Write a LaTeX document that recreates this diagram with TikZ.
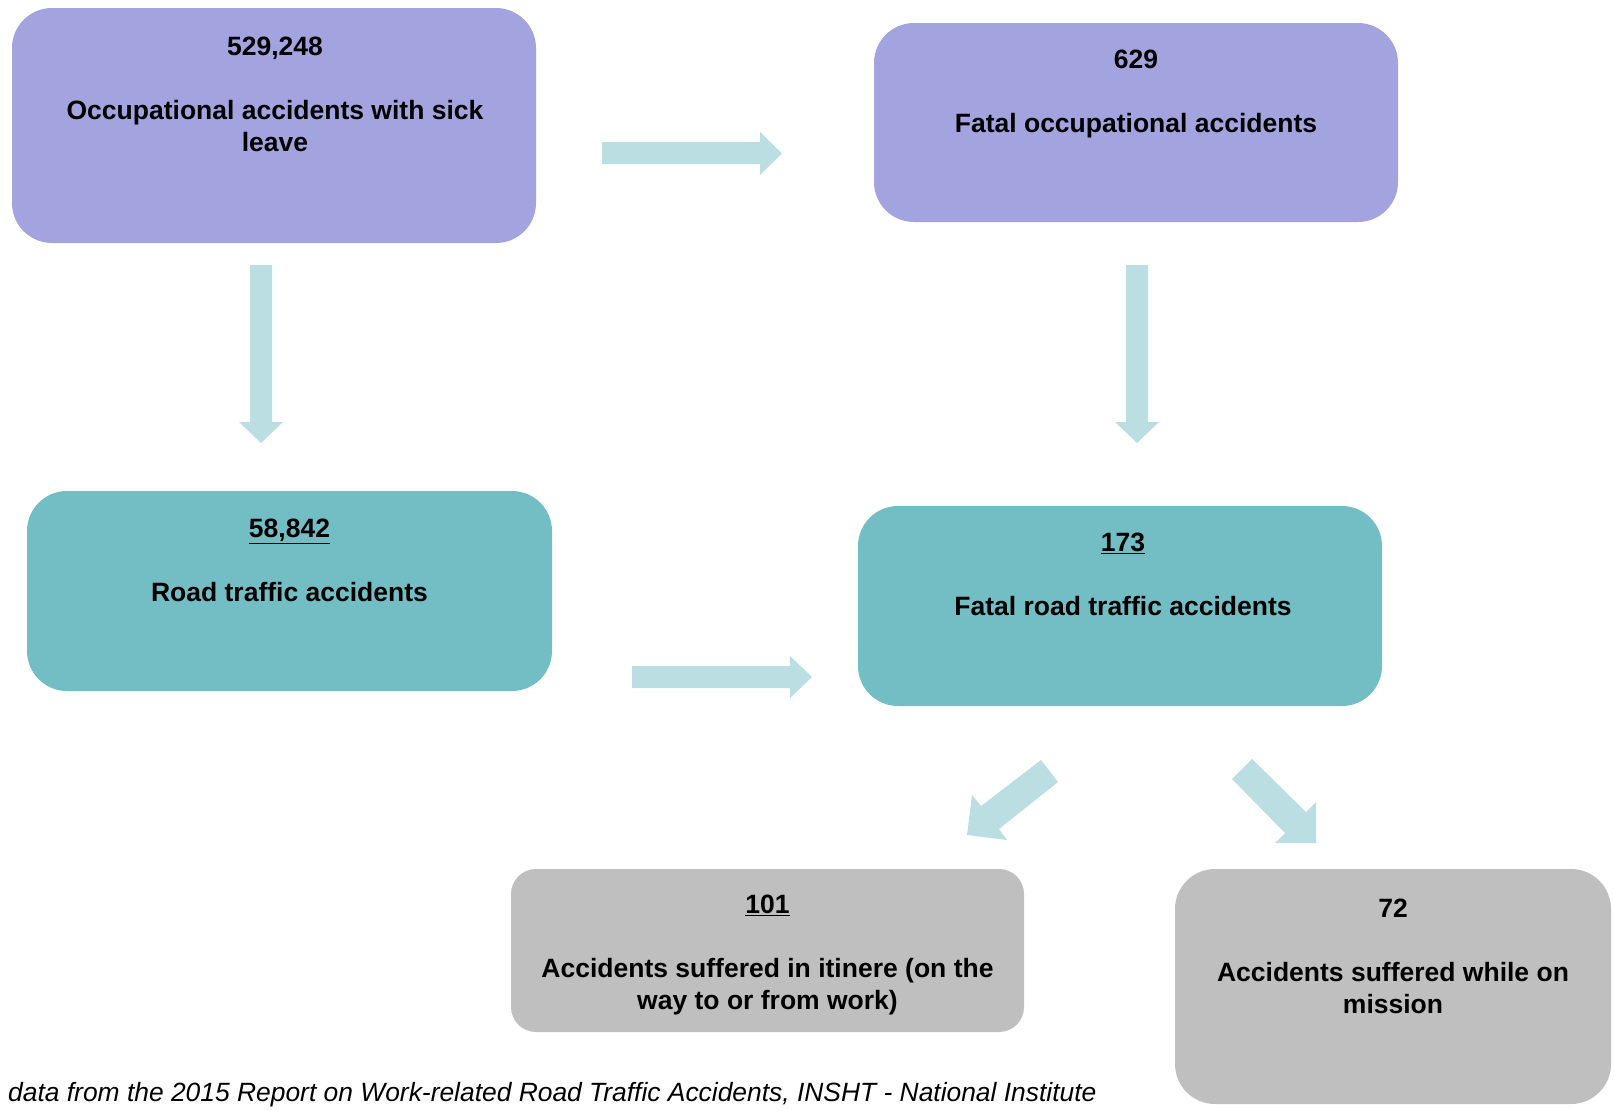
\documentclass[tikz,border=0pt]{standalone}
\usepackage{fontspec}
\setmainfont{Liberation Sans}
\definecolor{purp}{RGB}{163,163,223}
\definecolor{tealbox}{RGB}{115,190,196}
\definecolor{greybox}{RGB}{191,191,191}
\definecolor{arr}{RGB}{186,222,226}
\tikzset{
  box/.style={rounded corners=40pt, inner sep=0pt, outer sep=0pt},
  lbl/.style={font=\fontsize{26.5}{32}\selectfont\bfseries, align=center, inner sep=0pt, anchor=north},
  blockarrow/.style={fill=arr}
}
\begin{document}
\begin{tikzpicture}[x=1pt,y=-1pt]
\useasboundingbox (0,0) rectangle (1614,1109);
% boxes
\node[box, fill=purp, minimum width=524pt, minimum height=235pt] (b1) at (274,125.5) {};
\node[box, fill=purp, minimum width=524pt, minimum height=199pt] (b2) at (1136,122.5) {};
\node[box, fill=tealbox, minimum width=525pt, minimum height=200pt] (b3) at (289.5,591) {};
\node[box, fill=tealbox, minimum width=524pt, minimum height=200pt] (b4) at (1120,606) {};
\node[box, rounded corners=25pt, fill=greybox, minimum width=513pt, minimum height=163pt] (b5) at (767.5,950.5) {};
\node[box, fill=greybox, minimum width=436pt, minimum height=235pt] (b6) at (1393,986.5) {};
% texts
\node[lbl] (t1) at (275,36.5) {529,248\\[32pt]Occupational accidents with sick\\leave};
\node[lbl] (t2) at (1136,49.5) {629\\[32pt]Fatal occupational accidents};
\node[lbl] (t3) at (289.5,518.5) {\underline{58,842}\\[32pt]Road traffic accidents};
\node[lbl] (t4) at (1123,532.5) {\underline{173}\\[32pt]Fatal road traffic accidents};
\node[lbl] (t5) at (767.5,894.5) {\underline{101}\\[32pt]Accidents suffered in itinere (on the\\way to or from work)};
\node[lbl] (t6) at (1393,898.5) {72\\[32pt]Accidents suffered while on\\mission};
\node[font=\fontsize{26.4}{32}\selectfont\itshape, anchor=west, inner sep=0pt] (foot) at (8,1095) {data from the 2015 Report on Work-related Road Traffic Accidents, INSHT - National Institute};
% block arrows
\fill[blockarrow] (602,142) -- (760,142) -- (760,132) -- (782,153.5) -- (760,175) -- (760,164) -- (602,164) -- cycle;
\fill[blockarrow] (632,666) -- (790,666) -- (790,656) -- (812,677) -- (790,698) -- (790,688) -- (632,688) -- cycle;
\fill[blockarrow] (250,265) -- (272,265) -- (272,422) -- (283,422) -- (261,443) -- (239,422) -- (250,422) -- cycle;
\fill[blockarrow] (1126,265) -- (1148,265) -- (1148,422) -- (1159,422) -- (1137,443) -- (1115,422) -- (1126,422) -- cycle;
\fill[blockarrow] (1041,760) -- (981,806) -- (972,795) -- (967,835) -- (1007,840) -- (999,829) -- (1058,782) -- cycle;
\fill[blockarrow] (1252,759) -- (1306,812) -- (1316,802) -- (1316,843) -- (1275,843) -- (1285,833) -- (1232,779) -- cycle;
\end{tikzpicture}
\end{document}
